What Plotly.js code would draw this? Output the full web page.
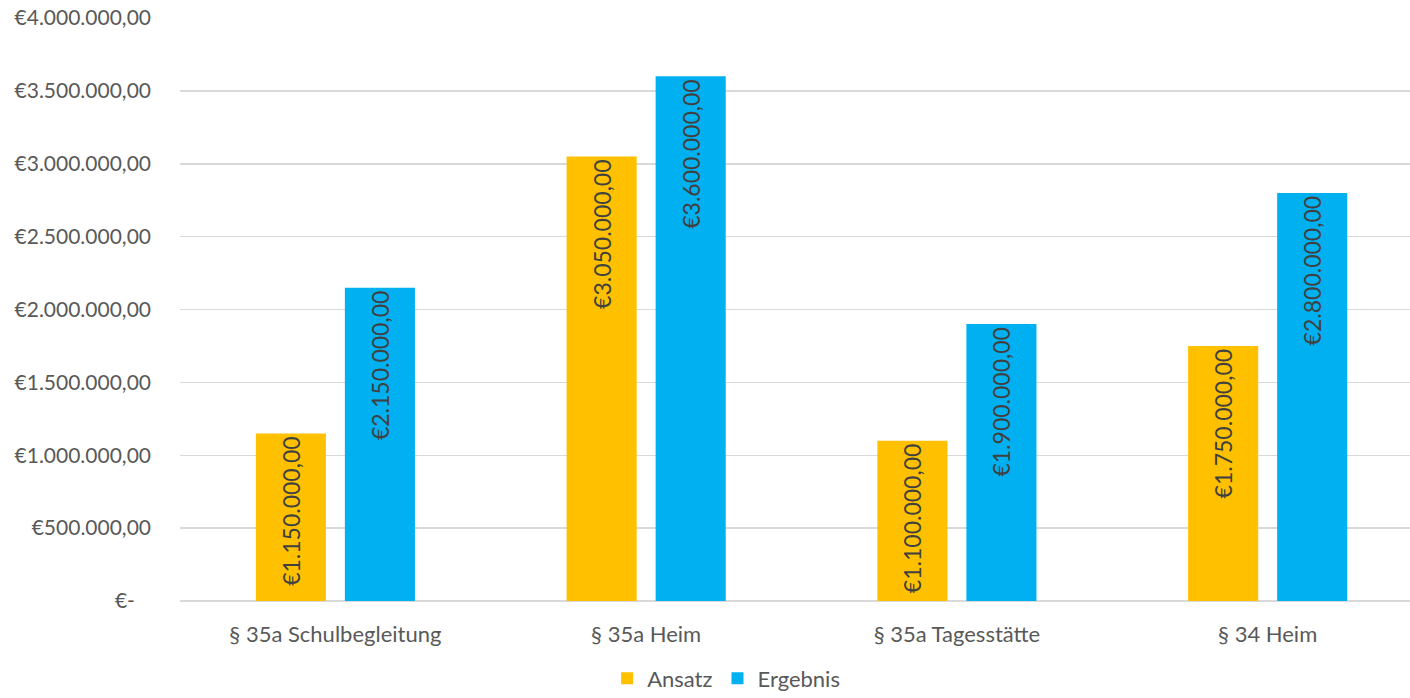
<!DOCTYPE html>
<html><head><meta charset="utf-8">
<script src="https://cdn.plot.ly/plotly-3.0.1.min.js"></script>
<style>html,body{margin:0;padding:0;background:#fff}#chart{width:1410px;height:698px}</style>
</head><body><div id="chart"></div>
<script>
const categories = ["§ 35a Schulbegleitung", "§ 35a Heim", "§ 35a Tagesstätte", "§ 34 Heim"];
const ansatz = [1150000, 3050000, 1100000, 1750000];
const ergebnis = [2150000, 3600000, 1900000, 2800000];
const yTickVals = [0, 500000, 1000000, 1500000, 2000000, 2500000, 3000000, 3500000, 4000000];

function fmt(v){
  if (v === 0) return "€-";
  const s = Math.round(v).toString().replace(/\B(?=(\d{3})+(?!\d))/g, ".");
  return "€" + s + ",00";
}
const yTickText = yTickVals.map(v => v === 0 ? "€-\u00a0\u00a0\u00a0" : fmt(v));
const FONT = "Lato, 'Open Sans', sans-serif";

const common = {
  type: "bar", x: categories, textposition: "inside", insidetextanchor: "end",
  textangle: -90, constraintext: "none", cliponaxis: false,
  textfont: {family: FONT, size: 23, color: "#404040"}, hoverinfo: "none"
};
const traces = [
  Object.assign({}, common, {name: "Ansatz", y: ansatz, text: ansatz.map(fmt), marker: {color: "#FFC000"}}),
  Object.assign({}, common, {name: "Ergebnis", y: ergebnis, text: ergebnis.map(fmt), marker: {color: "#00B0F0"}})
];
const layout = {
  width: 1410, height: 698,
  margin: {l: 180, r: 0, t: 18, b: 97, autoexpand: false},
  paper_bgcolor: "#fff", plot_bgcolor: "#fff",
  font: {family: FONT, size: 21, color: "#595959"},
  barmode: "group", bargap: 0.427, bargroupgap: 0.213,
  xaxis: {range: [-0.5, 3.458], showgrid: false, showline: false, zeroline: false, ticks: "", ticklabelstandoff: 18,
          tickfont: {size: 22, color: "#595959"}, automargin: false},
  yaxis: {range: [0, 4000000], tickvals: yTickVals, ticktext: yTickText, showgrid: true, automargin: false,
          gridcolor: "#d9d9d9", gridwidth: 1.5, zeroline: true, zerolinecolor: "#d9d9d9", zerolinewidth: 1.5,
          showline: false, ticks: "", ticklabelstandoff: 28, tickfont: {size: 21, color: "#595959"}},
  showlegend: true,
  legend: {orientation: "h", xref: "container", x: 0.515, xanchor: "center", yref: "container", y: 0.028, yanchor: "middle",
           font: {size: 22, color: "#595959"}, itemwidth: 30, traceorder: "normal"}
};
Plotly.newPlot("chart", traces, layout, {displayModeBar: false, staticPlot: true});
</script></body></html>
